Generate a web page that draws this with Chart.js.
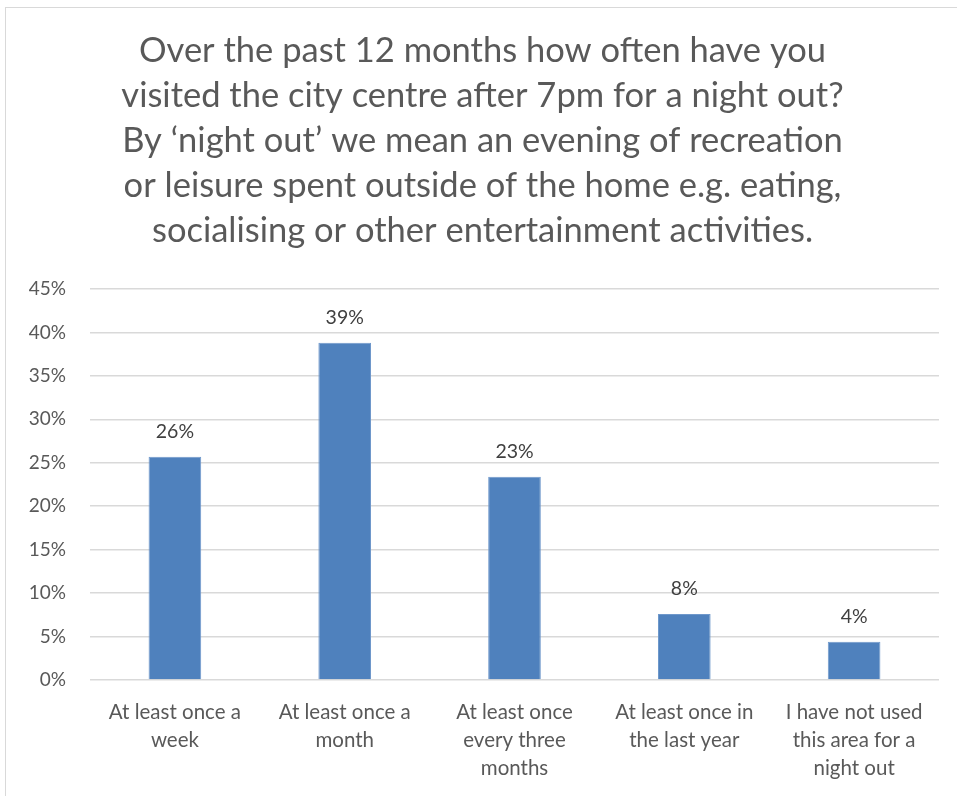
<!DOCTYPE html>
<html>
<head>
<meta charset="utf-8">
<script src="https://cdn.jsdelivr.net/npm/chart.js@4.4.1/dist/chart.umd.min.js"></script>
<style>
  html, body { margin: 0; padding: 0; background: #fff; overflow: hidden; }
  #frame { position: absolute; left: 5px; top: 7px; width: 1000px; height: 1000px; border: 1px solid #d9d9d9; }
  #wrap { position: absolute; left: 0; top: 0; width: 957px; height: 796px; }
</style>
</head>
<body>
<div id="frame"></div>
<div id="wrap"><canvas id="chart"></canvas></div>
<script>
const titleLines = [
  'Over the past 12 months how often have you',
  'visited the city centre after 7pm for a night out?',
  'By \u2018night out\u2019 we mean an evening of recreation',
  'or leisure spent outside of the home e.g. eating,',
  'socialising or other entertainment activities.'
];
const categories = [
  ['At least once a', 'week'],
  ['At least once a', 'month'],
  ['At least once', 'every three', 'months'],
  ['At least once in', 'the last year'],
  ['I have not used', 'this area for a', 'night out']
];
const shares = [25.7, 38.8, 23.4, 7.6, 4.4];
const tickValues = [0, 5, 10, 15, 20, 25, 30, 35, 40, 45];

const textColor = '#595959';
const fontFamily = 'Lato, "Open Sans", sans-serif';

// draws the rounded % label above each bar
const barLabels = {
  id: 'barLabels',
  afterDatasetsDraw(chart) {
    const ctx = chart.ctx;
    const meta = chart.getDatasetMeta(0);
    ctx.save();
    ctx.font = '19.5px ' + fontFamily;
    ctx.fillStyle = '#404040';
    ctx.textAlign = 'center';
    ctx.textBaseline = 'middle';
    meta.data.forEach((bar, i) => {
      ctx.fillText(Math.round(shares[i]) + '%', bar.x, bar.y - 25);
    });
    ctx.restore();
  }
};

// title in the original sits centred on the whole frame, a bit right of the plot
const titleShift = {
  id: 'titleShift',
  afterLayout(chart) {
    if (chart.titleBlock) {
      chart.titleBlock.left += 13;
      chart.titleBlock.right += 13;
    }
  }
};

new Chart(document.getElementById('chart'), {
  type: 'bar',
  data: {
    labels: categories,
    datasets: [{
      data: shares,
      backgroundColor: '#4f81bd',
      borderColor: '#6f98cb',
      borderWidth: 1,
      categoryPercentage: 1,
      barPercentage: 0.31
    }]
  },
  plugins: [barLabels, titleShift],
  options: {
    responsive: true,
    maintainAspectRatio: false,
    animation: false,
    layout: { padding: { left: 0, right: 18, top: 0, bottom: 0 } },
    plugins: {
      legend: { display: false },
      tooltip: { enabled: false },
      title: {
        display: true,
        text: titleLines,
        color: textColor,
        font: { family: fontFamily, size: 34.5, weight: 'normal', lineHeight: 45 / 34.5 },
        padding: { top: 28, bottom: 36 }
      }
    },
    scales: {
      x: {
        grid: { display: false, drawTicks: false },
        border: { display: false },
        ticks: {
          color: textColor,
          font: { family: fontFamily, size: 20.5, lineHeight: 28 / 20.5 },
          padding: 18,
          maxRotation: 0,
          autoSkip: false
        },
        afterFit(scale) { scale.height = 116; }
      },
      y: {
        min: 0,
        max: 45,
        afterBuildTicks(scale) { scale.ticks = tickValues.map(v => ({ value: v })); },
        grid: { color: '#d9d9d9', lineWidth: 1.5, drawTicks: false },
        border: { display: false },
        ticks: {
          color: textColor,
          font: { family: fontFamily, size: 19 },
          padding: 24,
          callback: v => v + '%'
        },
        afterFit(scale) { scale.width = 90; }
      }
    }
  }
});
</script>
</body>
</html>
